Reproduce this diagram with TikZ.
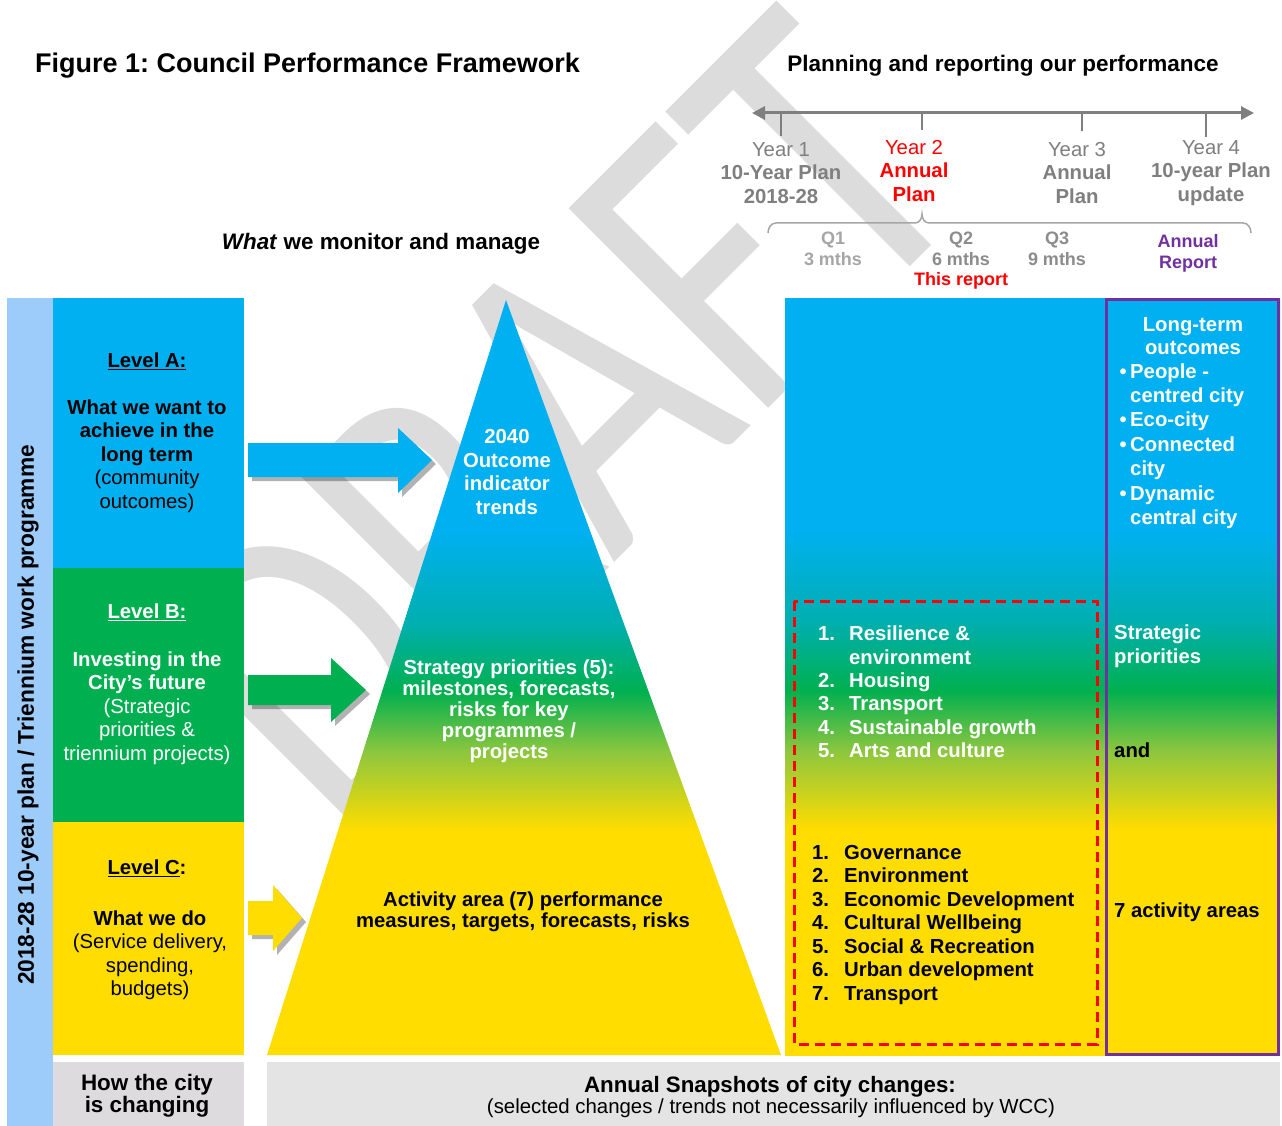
\documentclass[tikz,border=0pt]{standalone}
\usepackage{fontspec}
\setmainfont{Liberation Sans}
\newfontfamily\markfont{Carlito}
\usetikzlibrary{shadows,arrows.meta}
\frenchspacing

\definecolor{cblue}{HTML}{00B0F0}
\definecolor{cgreen}{HTML}{00B050}
\definecolor{cyellow}{HTML}{FFDD00}
\definecolor{cteal}{HTML}{00AFB0}
\definecolor{cygreen}{HTML}{8CC63F}
\definecolor{cstrip}{HTML}{9DCBFA}
\definecolor{cpurple}{HTML}{7030A0}
\definecolor{cgreytext}{HTML}{7F7F7F}
\definecolor{cqone}{HTML}{A6A6A6}
\definecolor{cqtwo}{HTML}{8C8C8C}
\definecolor{cwater}{HTML}{DCDCDC}
\definecolor{cboxgrey}{HTML}{DEDBDF}
\definecolor{cband}{HTML}{E4E4E4}
\definecolor{cred}{HTML}{FF0000}

% blue -> teal -> green -> yellow, top to bottom
\pgfdeclareverticalshading{levels}{100bp}{color(0bp)=(cyellow); color(39.9bp)=(cyellow); color(45.1bp)=(cygreen); color(49.1bp)=(cgreen); color(53.7bp)=(cteal); color(59.7bp)=(cblue); color(100bp)=(cblue)}

\begin{document}
\frenchspacing
\begin{tikzpicture}[x=1pt,y=-1pt,
  txt/.style={inner sep=0pt, align=center, font=\fontsize{20.3}{23.5}\selectfont},
  btxt/.style={txt, font=\bfseries\fontsize{20.3}{23.5}\selectfont},
  qtxt/.style={inner sep=0pt, align=center, font=\bfseries\fontsize{18}{21}\selectfont},
  blockarrow/.style={drop shadow={shadow xshift=4pt, shadow yshift=-4pt, opacity=0.3, fill=black}},
  tick/.style={cgreytext, line width=2.5pt}
]
\useasboundingbox (0,0) rectangle (1282,1126);
\fill[white] (0,0) rectangle (1282,1126);

% watermark
\begin{scope}[shift={(336,841)}, rotate=45, xscale=0.77]
  \node[transform shape, anchor=base west, inner sep=0pt, text=cwater,
        font=\markfont\fontsize{440}{440}\selectfont] (draft) at (0,0) {DRAFT};
\end{scope}

% left column
\fill[cstrip] (7,298) rectangle (53,1126);
\node[rotate=90, inner sep=0pt, font=\bfseries\fontsize{22.7}{26}\selectfont] (side) at (28,715)
  {2018-28 10-year plan / Triennium work programme};
\fill[cblue] (53,298) rectangle (244,568);
\fill[cgreen] (53,568) rectangle (244,822);
\fill[cyellow] (53,822) rectangle (244,1055);
\fill[cboxgrey] (53,1062) rectangle (244,1126);
\fill[cband] (267,1062) rectangle (1280,1126);

% block arrows into the pyramid
\fill[cblue, blockarrow] (248,443) -- (398,443) -- (398,428) -- (432,460) -- (398,493) -- (398,477) -- (248,477) -- cycle;
\fill[cgreen, blockarrow] (248,675) -- (331,675) -- (331,658) -- (366,690) -- (331,722) -- (331,705) -- (248,705) -- cycle;
\fill[cyellow, blockarrow] (248,901) -- (273,901) -- (273,885) -- (302,918) -- (273,951) -- (273,935) -- (248,935) -- cycle;

% pyramid
\shade[shading=levels] (506,300) -- (781,1055) -- (267,1055) -- cycle;

% right panel
\shade[shading=levels] (785,298) rectangle (1280,1055);
\draw[cred, line width=3pt, dash pattern=on 10pt off 6pt] (794,601) rectangle (1097,1044);
\draw[cpurple, line width=3pt] (1106,299) rectangle (1278,1054);

% timeline
\coordinate (tl) at (752,113);
\coordinate (tr) at (1254,113);
\draw[cgreytext, line width=3pt, {Triangle[length=13pt,width=13pt]}-{Triangle[length=13pt,width=13pt]}] (tl) -- (tr);
\draw[tick] (781,113) -- (781,136);
\draw[tick] (922,113) -- (922,130);
\draw[tick] (1082,113) -- (1082,131);
\draw[tick] (1206,113) -- (1206,137);
\draw[cqone, line width=1.5pt] (768,233) to[out=90,in=180] (776,223) -- (915,223)
  to[out=0,in=-90] (922,214) to[out=-90,in=180] (929,223) -- (1243,223) to[out=0,in=90] (1251,233);

% headings
\node[anchor=west, inner sep=0pt, font=\bfseries\fontsize{27}{30}\selectfont] (title) at (35,66)
  {Figure 1: Council Performance Framework};
\node[inner sep=0pt, font=\bfseries\fontsize{22.5}{26}\selectfont] (plan) at (1003,66)
  {Planning and reporting our performance};
\node[inner sep=0pt, font=\bfseries\fontsize{22.4}{26}\selectfont] (monitor) at (381,244)
  {\textit{What} we monitor and manage};

% years
\node[txt, text=cgreytext] (y1) at (781,173) {Year 1\\\textbf{10-Year Plan}\\\textbf{2018-28}};
\node[txt, text=cred] (y2) at (914,171) {Year 2\\\textbf{Annual}\\\textbf{Plan}};
\node[txt, text=cgreytext] (y3) at (1077,173) {Year 3\\\textbf{Annual}\\\textbf{Plan}};
\node[txt, text=cgreytext] (y4) at (1211,173) {Year 4\\\textbf{10-year Plan}\\\textbf{update}};

% quarters
\node[qtxt, text=cqone] (q1) at (833,249) {Q1\\3 mths};
\node[qtxt, text=cqtwo] (q2) at (961,249) {Q2\\6 mths};
\node[qtxt, text=cred] (rep) at (961,281) {This report};
\node[qtxt, text=cqtwo] (q3) at (1057,249) {Q3\\9 mths};
\node[qtxt, text=cpurple] (ar) at (1188,253) {Annual\\Report};

% level labels
\node[btxt] (la) at (147,361) {\underline{Level A:}};
\node[txt] (lat) at (147,456) {\textbf{What we want to}\\\textbf{achieve in the}\\\textbf{long term}\\(community\\outcomes)};
\node[btxt, text=white] (lb) at (147,612) {\underline{Level B:}};
\node[txt, text=white] (lbt) at (147,708) {\textbf{Investing in the}\\\textbf{City's future}\\(Strategic\\priorities \&\\triennium projects)};
\node[btxt] (lc) at (147,868) {\underline{Level C}:};
\node[txt] (lct) at (150,955) {\textbf{What we do}\\(Service delivery,\\spending,\\budgets)};
\node[btxt, font=\bfseries\fontsize{22.4}{22}\selectfont] (how) at (147,1096) {How the city\\is changing};

% pyramid texts
\node[btxt, text=white] (pa) at (507,472) {2040\\Outcome\\indicator\\trends};
\node[btxt, text=white, font=\bfseries\fontsize{20.3}{21}\selectfont] (pb) at (509,711)
  {Strategy priorities (5):\\milestones, forecasts,\\risks for key\\programmes /\\projects};
\node[btxt, font=\bfseries\fontsize{20.3}{21}\selectfont] (pc) at (523,912)
  {Activity area (7) performance\\measures, targets, forecasts, risks};

% right panel texts
\node[btxt, text=white, font=\bfseries\fontsize{20.3}{23}\selectfont] (lt) at (1193,336) {Long-term\\outcomes};
\node[btxt, text=white, align=left, anchor=west, font=\bfseries\fontsize{20.3}{24.4}\selectfont] (outc) at (1130,446)
  {\llap{\textbullet\,}People -\\centred city\\\llap{\textbullet\,}Eco-city\\\llap{\textbullet\,}Connected\\city\\\llap{\textbullet\,}Dynamic\\central city};
\node[btxt, text=white, align=left, anchor=west] (sp) at (1114,646) {Strategic\\priorities};
\node[btxt, anchor=west] (and) at (1114,750) {and};
\node[btxt, anchor=west] (act) at (1114,912) {7 activity areas};

\node[btxt, text=white, align=left, anchor=west, font=\bfseries\fontsize{20.3}{23.4}\selectfont] (splist) at (818,692)
  {\makebox[31pt][l]{1.}Resilience \&\\\hspace*{31pt}environment\\\makebox[31pt][l]{2.}Housing\\\makebox[31pt][l]{3.}Transport\\\makebox[31pt][l]{4.}Sustainable growth\\\makebox[31pt][l]{5.}Arts and culture};
\node[btxt, align=left, anchor=west, font=\bfseries\fontsize{20.3}{23.5}\selectfont] (aclist) at (812,925)
  {\makebox[32pt][l]{1.}Governance\\\makebox[32pt][l]{2.}Environment\\\makebox[32pt][l]{3.}Economic Development\\\makebox[32pt][l]{4.}Cultural Wellbeing\\\makebox[32pt][l]{5.}Social \& Recreation\\\makebox[32pt][l]{6.}Urban development\\\makebox[32pt][l]{7.}Transport};

% bottom band
\node[inner sep=0pt, align=center, font=\bfseries\fontsize{22.3}{22}\selectfont] (snap) at (770,1087) {Annual Snapshots of city changes:};
\node[inner sep=0pt, align=center, font=\fontsize{20.4}{22}\selectfont] (snapnote) at (771,1108) {(selected changes / trends not necessarily influenced by WCC)};
\end{tikzpicture}
\end{document}
